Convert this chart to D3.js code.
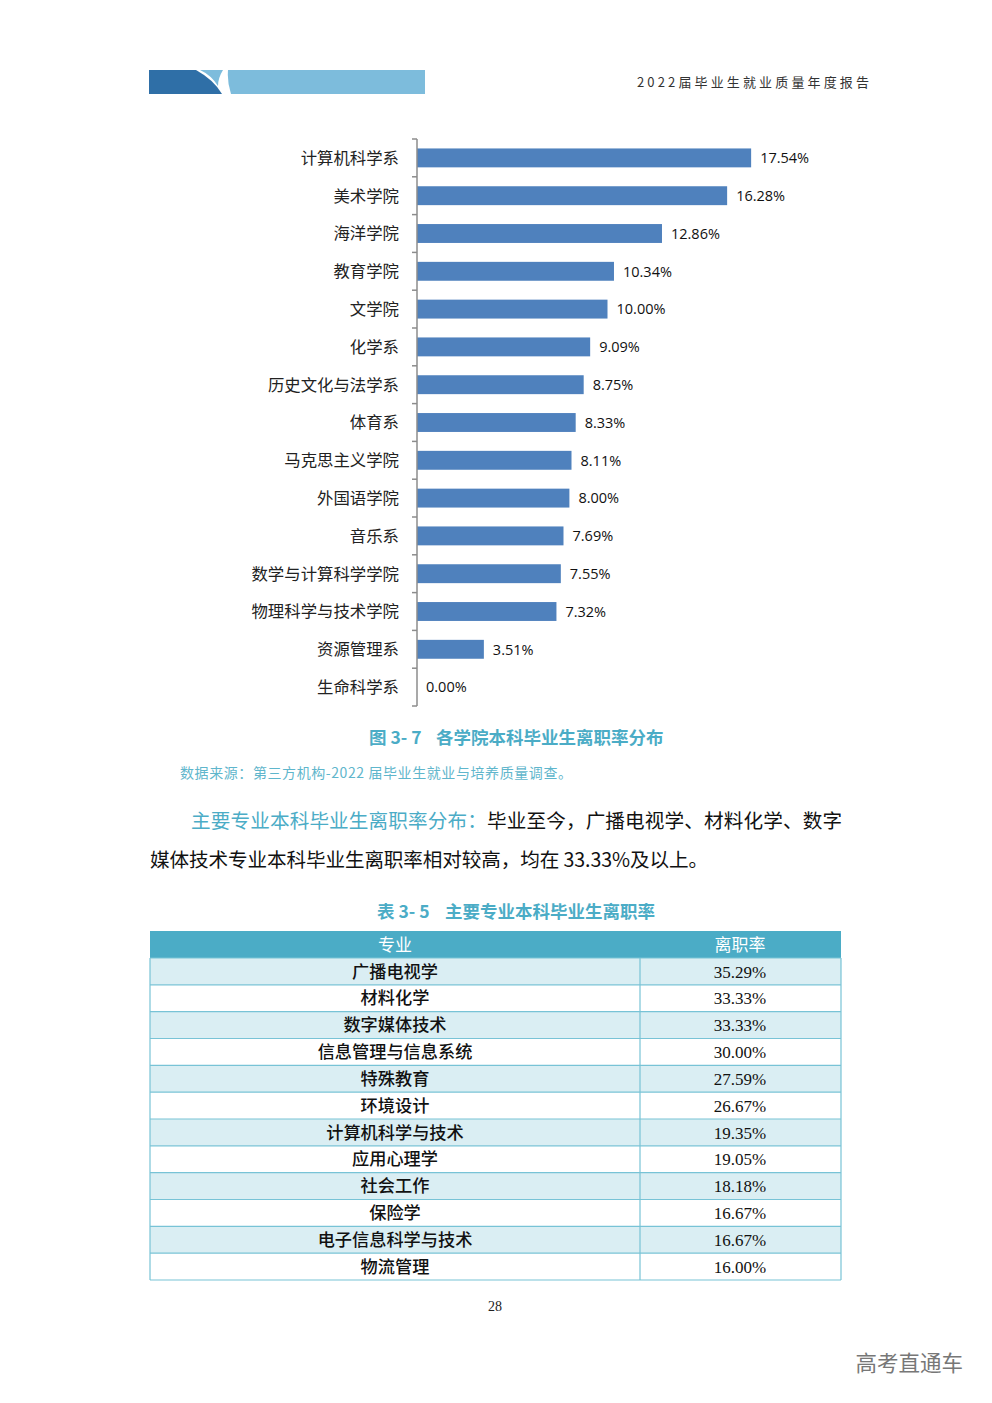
<!DOCTYPE html>
<html><head><meta charset="utf-8">
<script src="https://cdn.jsdelivr.net/npm/d3@7"></script>
<style>
html,body{margin:0;padding:0;background:#fff;}
svg{display:block;}
</style></head>
<body>
<svg id="page" width="992" height="1403"></svg>
<script>
// ---- Data ----
const categories = ["计算机科学系","美术学院","海洋学院","教育学院","文学院","化学系","历史文化与法学系","体育系","马克思主义学院","外国语学院","音乐系","数学与计算科学学院","物理科学与技术学院","资源管理系","生命科学系"];
const values = [17.54,16.28,12.86,10.34,10.00,9.09,8.75,8.33,8.11,8.00,7.69,7.55,7.32,3.51,0.00];
const tableHeaders = ["专业","离职率"];
const majors = ["广播电视学","材料化学","数字媒体技术","信息管理与信息系统","特殊教育","环境设计","计算机科学与技术","应用心理学","社会工作","保险学","电子信息科学与技术","物流管理"];
const rates = ["35.29%","33.33%","33.33%","30.00%","27.59%","26.67%","19.35%","19.05%","18.18%","16.67%","16.67%","16.00%"];

const svg = d3.select("#page");
const CJK = "'Noto Sans CJK SC','Noto Sans',sans-serif";
const TEAL = "#4bacc6";

// ---- Header ----
svg.append("path").attr("d","M149,70 L196,70 Q214,80 222,94 L149,94 Z").attr("fill","#2f6fa7");
svg.append("path").attr("d","M200,70 L223,70 Q218,78 218,86 Q211,75 200,70 Z").attr("fill","#7dbcdc");
svg.append("path").attr("d","M228,70 L425,70 L425,94 L231,94 Q227,82 228,70 Z").attr("fill","#7dbcdc");
svg.append("text").attr("x",637).attr("y",87)
  .attr("font-family",CJK).attr("font-size",13).attr("fill","#333")
  .attr("textLength",232).attr("lengthAdjust","spacing")
  .text("2022届毕业生就业质量年度报告");

// ---- Bar chart ----
const x = d3.scaleLinear().domain([0,20]).range([417,798]);
const y = d3.scaleBand().domain(categories).range([139,706]).paddingInner(0.5).paddingOuter(0.25);
const yb = d3.scaleBand().domain(categories).range([139,706]);

const g = svg.append("g");
g.selectAll("rect.bar").data(categories).join("rect").attr("class","bar")
  .attr("x",x(0)).attr("y",d=>y(d)).attr("height",y.bandwidth())
  .attr("width",(d,i)=>x(values[i])-x(0)).attr("fill","#4f81bd");

// axis line + ticks at band boundaries
const axisG = g.append("g").attr("stroke","#8c8c8c").attr("stroke-width",1.5);
axisG.append("line").attr("x1",x(0)).attr("x2",x(0)).attr("y1",yb.range()[0]).attr("y2",yb.range()[1]);
const bounds = categories.map(c=>yb(c)).concat([yb.range()[1]]);
axisG.selectAll("line.tk").data(bounds).join("line").attr("class","tk")
  .attr("x1",x(0)-5).attr("x2",x(0)).attr("y1",d=>d).attr("y2",d=>d);

g.selectAll("text.cat").data(categories).join("text").attr("class","cat")
  .attr("x",399).attr("y",d=>yb(d)+yb.bandwidth()/2).attr("dy","0.36em")
  .attr("text-anchor","end").attr("font-family",CJK).attr("font-size",16.4).attr("fill","#222")
  .text(d=>d);

g.selectAll("text.val").data(categories).join("text").attr("class","val")
  .attr("x",(d,i)=>x(values[i])+9).attr("y",d=>yb(d)+yb.bandwidth()/2).attr("dy","0.36em")
  .attr("font-family","'Open Sans',sans-serif").attr("font-size",14.5).attr("fill","#111")
  .text((d,i)=>values[i].toFixed(2)+"%");

// ---- Captions ----
const cap = svg.append("text").attr("x",369).attr("y",744).attr("font-family",CJK)
  .attr("font-size",17.5).attr("font-weight","bold").attr("fill",TEAL);
cap.append("tspan").text("图 3- 7");
cap.append("tspan").attr("x",436).text("各学院本科毕业生离职率分布");

svg.append("text").attr("x",180).attr("y",778).attr("font-family",CJK).attr("font-size",14)
  .attr("textLength",392).attr("lengthAdjust","spacing")
  .attr("fill","#5fb6cc").text("数据来源：第三方机构-2022 届毕业生就业与培养质量调查。");

// ---- Paragraph ----
const p1 = svg.append("text").attr("x",191).attr("y",828).attr("font-family",CJK).attr("font-size",19.6)
  .attr("textLength",651).attr("lengthAdjust","spacing");
p1.append("tspan").attr("fill",TEAL).text("主要专业本科毕业生离职率分布：");
p1.append("tspan").attr("fill","#111").text("毕业至今，广播电视学、材料化学、数字");
svg.append("text").attr("x",150).attr("y",867).attr("font-family",CJK).attr("font-size",19.6)
  .attr("textLength",558).attr("lengthAdjust","spacing")
  .attr("fill","#111").text("媒体技术专业本科毕业生离职率相对较高，均在 33.33%及以上。");

// ---- Table title ----
const tt = svg.append("text").attr("x",377).attr("y",918).attr("font-family",CJK)
  .attr("font-size",17.5).attr("font-weight","bold").attr("fill",TEAL);
tt.append("tspan").text("表 3- 5");
tt.append("tspan").attr("x",445).text("主要专业本科毕业生离职率");

// ---- Table ----
const tX0 = 150, tX1 = 841, tDiv = 640, hTop = 931, hBot = 958;
const rowY = d3.scaleBand().domain(d3.range(majors.length)).range([hBot,1280]);
const tg = svg.append("g");
tg.append("rect").attr("x",tX0).attr("y",hTop).attr("width",tX1-tX0).attr("height",hBot-hTop).attr("fill",TEAL);
tg.selectAll("rect.row").data(majors).join("rect").attr("class","row")
  .attr("x",tX0).attr("y",(d,i)=>rowY(i)).attr("width",tX1-tX0).attr("height",rowY.bandwidth())
  .attr("fill",(d,i)=>i%2===0?"#daeef3":"#ffffff");
// borders
const bc = "#78c3d6";
tg.selectAll("line.h").data(d3.range(majors.length+1)).join("line").attr("class","h")
  .attr("x1",tX0).attr("x2",tX1).attr("y1",i=>i<majors.length?rowY(i):rowY.range()[1]).attr("y2",i=>i<majors.length?rowY(i):rowY.range()[1])
  .attr("stroke",bc).attr("stroke-width",1.2);
tg.append("line").attr("x1",tX0).attr("x2",tX0).attr("y1",hBot).attr("y2",1280).attr("stroke",bc).attr("stroke-width",1.2);
tg.append("line").attr("x1",tX1).attr("x2",tX1).attr("y1",hBot).attr("y2",1280).attr("stroke",bc).attr("stroke-width",1.2);
tg.append("line").attr("x1",tDiv).attr("x2",tDiv).attr("y1",hBot).attr("y2",1280).attr("stroke",bc).attr("stroke-width",1.2);

const c1 = 395, c2 = 740;
tg.selectAll("text.hd").data(tableHeaders).join("text").attr("class","hd")
  .attr("x",(d,i)=>i===0?c1:c2).attr("y",(hTop+hBot)/2).attr("dy","0.36em").attr("text-anchor","middle")
  .attr("font-family",CJK).attr("font-size",17).attr("fill","#fff").text(d=>d);
tg.selectAll("text.mj").data(majors).join("text").attr("class","mj")
  .attr("x",c1).attr("y",(d,i)=>rowY(i)+rowY.bandwidth()/2).attr("dy","0.36em").attr("text-anchor","middle")
  .attr("font-family",CJK).attr("font-size",17.2).attr("font-weight","500").attr("fill","#111").text(d=>d);
tg.selectAll("text.rt").data(rates).join("text").attr("class","rt")
  .attr("x",c2).attr("y",(d,i)=>rowY(i)+rowY.bandwidth()/2).attr("dy","0.36em").attr("text-anchor","middle")
  .attr("font-family","'Liberation Serif',serif").attr("font-size",17).attr("fill","#111").text(d=>d);

// ---- Footer ----
svg.append("text").attr("x",495).attr("y",1311).attr("text-anchor","middle")
  .attr("font-family","'Liberation Serif',serif").attr("font-size",14).attr("fill","#222").text("28");
svg.append("text").attr("x",963).attr("y",1371).attr("text-anchor","end")
  .attr("font-family",CJK).attr("font-size",21.5).attr("fill","#777").text("高考直通车");
</script>
</body></html>
